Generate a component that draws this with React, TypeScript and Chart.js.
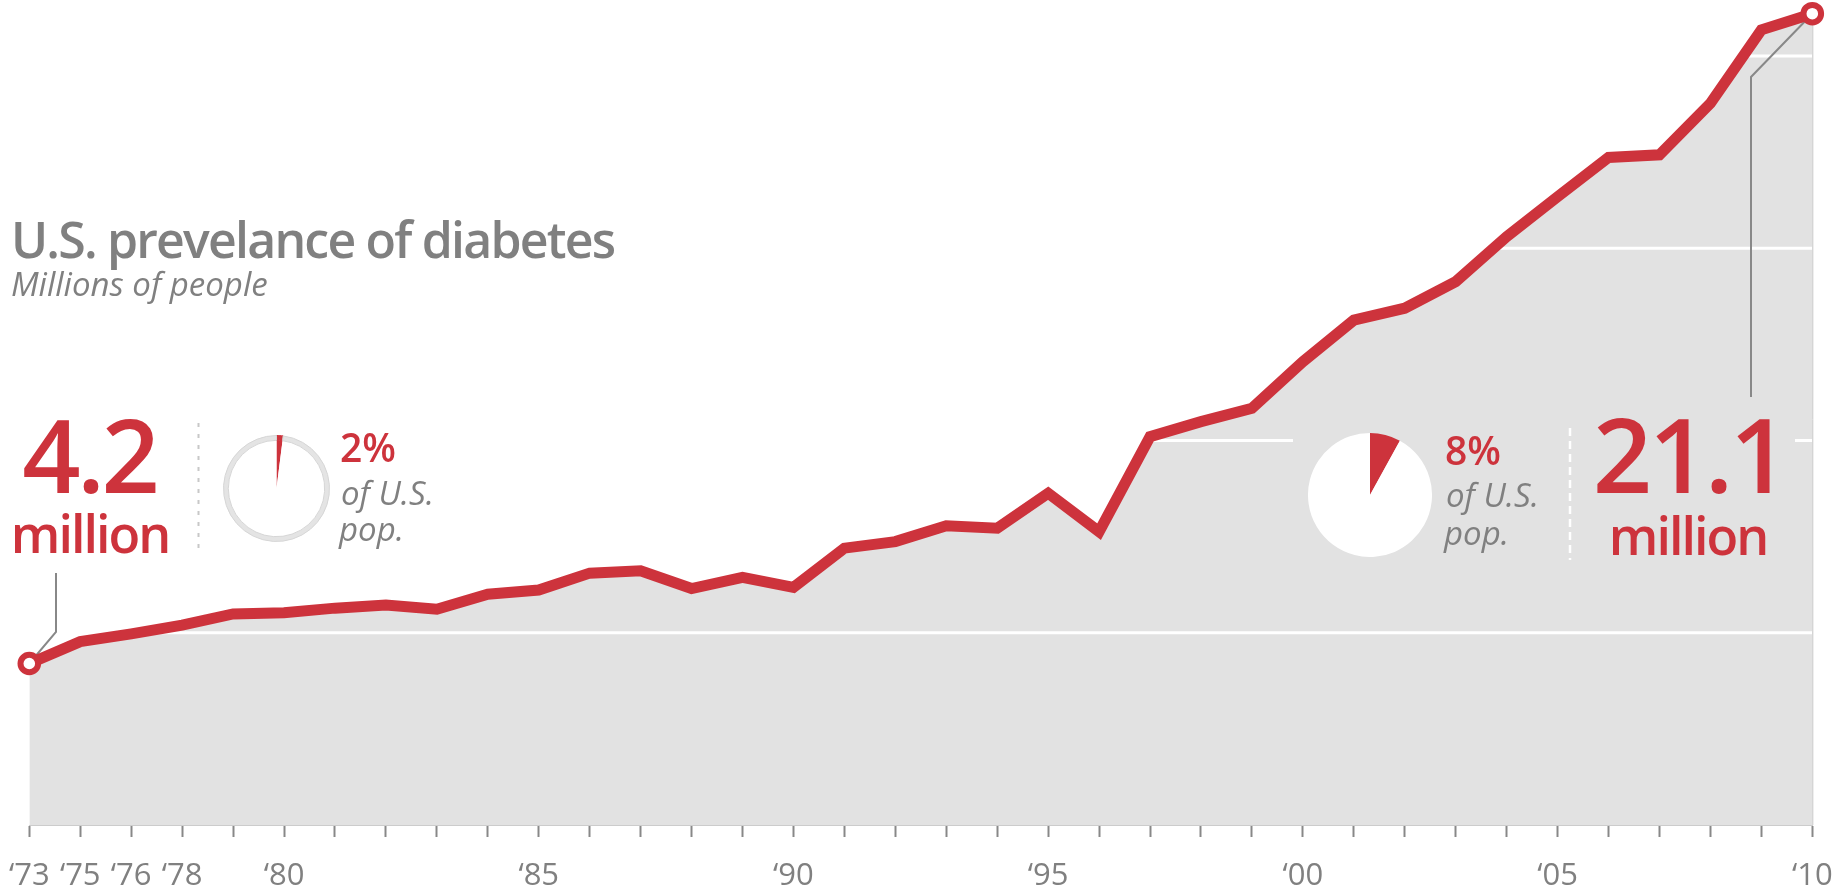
import React, { useEffect, useRef } from 'react';
import { Chart, registerables } from 'chart.js';

Chart.register(...registerables);

// ---------- data ----------
const years = [
  1973, 1975, 1976, 1978, 1979, 1980, 1981, 1982, 1983, 1984, 1985, 1986,
  1987, 1988, 1989, 1990, 1991, 1992, 1993, 1994, 1995, 1996, 1997, 1998,
  1999, 2000, 2001, 2002, 2003, 2004, 2005, 2006, 2007, 2008, 2009, 2010,
];
const prevalence = [
  4.2, 4.77, 4.97, 5.2, 5.49, 5.52, 5.64, 5.72, 5.61, 6.0, 6.11, 6.55,
  6.61, 6.15, 6.44, 6.18, 7.2, 7.37, 7.78, 7.72, 8.63, 7.63, 10.1, 10.49,
  10.84, 12.05, 13.13, 13.44, 14.13, 15.3, 16.34, 17.36, 17.43, 18.77, 20.68, 21.1,
];
const labeledYears = [1973, 1975, 1976, 1978, 1980, 1985, 1990, 1995, 2000, 2005, 2010];
const gridValues = [5, 10, 15, 20];
const share1973 = [2, 98];
const share2010 = [8, 92];

const TITLE = 'U.S. prevelance of diabetes';
const SUBTITLE = 'Millions of people';

// ---------- styles ----------
const RED = '#cd333c';
const GRAY_TEXT = '#808080';
const FILL = '#e2e2e2';
const FONT = '"Open Sans", "Noto Sans", sans-serif';

const yearLabel = (y: number) => '\u2018' + String(y).slice(2);

function drawText(
  ctx: CanvasRenderingContext2D,
  s: string,
  x: number,
  y: number,
  font: string,
  color: string,
  align: CanvasTextAlign = 'left',
  spacing = 0
) {
  ctx.font = font;
  ctx.fillStyle = color;
  ctx.textAlign = align;
  ctx.textBaseline = 'alphabetic';
  (ctx as any).letterSpacing = spacing + 'px';
  // canvas adds spacing after the last glyph too; compensate when centring
  const dx = align === 'center' ? -spacing / 2 : 0;
  ctx.fillText(s, x - dx, y);
  (ctx as any).letterSpacing = '0px';
}

const overlayPlugin = {
  id: 'overlay',
  afterDatasetDraw(chart: any, args: any) {
    if (args.index !== 1) return;
    const { ctx, chartArea: ca } = chart;
    const x = chart.scales.x;
    const y = chart.scales.y;
    ctx.save();
    // white grid lines over the fill, under the red line
    ctx.strokeStyle = '#ffffff';
    ctx.lineWidth = 3;
    for (const v of gridValues) {
      const py = y.getPixelForValue(v);
      ctx.beginPath();
      ctx.moveTo(ca.left, py);
      ctx.lineTo(ca.right, py);
      ctx.stroke();
    }
    const n = prevalence.length - 1;
    const firstX = x.getPixelForValue(0);
    const firstY = y.getPixelForValue(prevalence[0]);
    const lastX = x.getPixelForValue(n);
    const lastY = y.getPixelForValue(prevalence[n]);
    // right edge of the area
    ctx.strokeStyle = '#c4c4c4';
    ctx.lineWidth = 1;
    ctx.beginPath();
    ctx.moveTo(lastX + 0.5, lastY);
    ctx.lineTo(lastX + 0.5, ca.bottom);
    ctx.stroke();
    // background of the right annotation block
    ctx.fillStyle = FILL;
    ctx.fillRect(1293, 402, 502, 195);
    // connector lines
    ctx.strokeStyle = '#888888';
    ctx.lineWidth = 2;
    ctx.beginPath();
    ctx.moveTo(56, 573);
    ctx.lineTo(56, 632);
    ctx.lineTo(firstX, firstY);
    ctx.stroke();
    ctx.beginPath();
    ctx.moveTo(1751, 397);
    ctx.lineTo(1751, 77);
    ctx.lineTo(lastX, lastY);
    ctx.stroke();
    ctx.restore();
  },
  afterDraw(chart: any) {
    const ctx: CanvasRenderingContext2D = chart.ctx;
    ctx.save();
    drawText(ctx, TITLE, 11, 258, `600 50px ${FONT}`, GRAY_TEXT, 'left', -1.8);
    drawText(ctx, SUBTITLE, 11, 296, `italic 400 33px ${FONT}`, GRAY_TEXT);

    // left annotation
    drawText(ctx, String(prevalence[0]), 91, 493, `600 102px ${FONT}`, RED, 'center', -3.5);
    drawText(ctx, 'million', 91, 553, `600 52px ${FONT}`, RED, 'center', -2);
    drawText(ctx, share1973[0] + '%', 340, 462, `600 39px ${FONT}`, RED);
    drawText(ctx, 'of U.S.', 341, 505, `italic 400 33px ${FONT}`, GRAY_TEXT);
    drawText(ctx, 'pop.', 339, 541, `italic 400 33px ${FONT}`, GRAY_TEXT);

    // right annotation
    const last = prevalence[prevalence.length - 1];
    drawText(ctx, share2010[0] + '%', 1445, 465, `600 39px ${FONT}`, RED);
    drawText(ctx, 'of U.S.', 1446, 507, `italic 400 33px ${FONT}`, GRAY_TEXT);
    drawText(ctx, 'pop.', 1444, 545, `italic 400 33px ${FONT}`, GRAY_TEXT);
    drawText(ctx, last.toFixed(1), 1691, 493, `600 104px ${FONT}`, RED, 'center', -3.5);
    drawText(ctx, 'million', 1689, 555, `600 52px ${FONT}`, RED, 'center', -2);

    // dashed separators
    ctx.lineWidth = 2;
    ctx.setLineDash([4, 7]);
    ctx.strokeStyle = '#c8c8c8';
    ctx.beginPath();
    ctx.moveTo(198.5, 423);
    ctx.lineTo(198.5, 553);
    ctx.stroke();
    ctx.setLineDash([8, 5]);
    ctx.strokeStyle = '#ffffff';
    ctx.lineWidth = 2.5;
    ctx.beginPath();
    ctx.moveTo(1570, 428);
    ctx.lineTo(1570, 560);
    ctx.stroke();
    ctx.restore();
  },
};

function MainChart() {
  const ref = useRef<HTMLCanvasElement>(null);
  useEffect(() => {
    if (!ref.current) return;
    const n = prevalence.length - 1;
    const chart = new Chart(ref.current, {
      type: 'line',
      data: {
        labels: years.map(String),
        datasets: [
          {
            data: prevalence,
            borderColor: RED,
            borderWidth: 11,
            borderJoinStyle: 'miter',
            fill: false,
            tension: 0,
            clip: false as any,
            pointRadius: (c: any) => (c.dataIndex === 0 || c.dataIndex === n ? 8.8 : 0),
            pointBackgroundColor: '#ffffff',
            pointBorderColor: RED,
            pointBorderWidth: 6,
            pointHoverRadius: 0,
          },
          {
            data: prevalence,
            borderWidth: 0,
            pointRadius: 0,
            fill: 'origin',
            backgroundColor: FILL,
            tension: 0,
          },
        ],
      },
      options: {
        responsive: false,
        animation: false,
        events: [],
        layout: { autoPadding: false, padding: { left: 29.3, right: 22.7, top: 0, bottom: 0 } },
        plugins: { legend: { display: false }, tooltip: { enabled: false } },
        scales: {
          x: {
            type: 'category',
            offset: false,
            grid: {
              display: true,
              drawOnChartArea: false,
              drawTicks: true,
              tickLength: 12,
              tickColor: '#888888',
              tickWidth: 2,
            },
            border: { display: true, color: '#cccccc', width: 1 },
            ticks: {
              autoSkip: false,
              maxRotation: 0,
              minRotation: 0,
              padding: 21,
              color: GRAY_TEXT,
              font: { family: FONT, size: 31, weight: 'normal' },
              callback: (_v: any, i: number) =>
                labeledYears.includes(years[i]) ? yearLabel(years[i]) : '',
            },
            afterFit: (scale: any) => {
              scale.height = 68;
              scale.paddingLeft = 0;
              scale.paddingRight = 0;
              scale.paddingTop = 0;
              scale.paddingBottom = 0;
            },
          },
          y: {
            display: false,
            min: 0,
            max: 21.456,
            afterFit: (scale: any) => {
              scale.paddingTop = 0;
              scale.paddingBottom = 0;
            },
          },
        },
      },
      plugins: [overlayPlugin],
    } as any);
    return () => chart.destroy();
  }, []);
  return <canvas ref={ref} width={1835} height={893} style={{ position: 'absolute', left: 0, top: 0 }} />;
}

function SharePie(props: { data: number[]; size: number; left: number; top: number; ring: boolean }) {
  const ref = useRef<HTMLCanvasElement>(null);
  useEffect(() => {
    if (!ref.current) return;
    const datasets: any[] = [];
    if (props.ring) {
      datasets.push({
        data: props.data,
        backgroundColor: [RED, '#e4e4e4'],
        borderColor: [RED, '#d6d6d6'],
        borderWidth: 1,
        weight: 1,
      });
    }
    datasets.push({
      data: props.data,
      backgroundColor: [RED, '#ffffff'],
      borderWidth: 0,
      weight: props.ring ? 10 : 1,
    });
    const chart = new Chart(ref.current, {
      type: 'doughnut',
      data: { labels: ['Diabetic', 'Other'], datasets },
      options: {
        responsive: false,
        animation: false,
        events: [],
        cutout: 0,
        layout: { padding: 0 },
        plugins: { legend: { display: false }, tooltip: { enabled: false } },
      },
    } as any);
    return () => chart.destroy();
  }, []);
  return (
    <canvas
      ref={ref}
      width={props.size}
      height={props.size}
      style={{ position: 'absolute', left: props.left, top: props.top }}
    />
  );
}

export default function App() {
  return (
    <div style={{ position: 'absolute', left: 0, top: 0, width: 1835, height: 893, background: '#ffffff', overflow: 'hidden' }}>
      <MainChart />
      <SharePie data={share1973} size={107} left={223} top={435} ring={true} />
      <SharePie data={share2010} size={124} left={1308} top={433} ring={false} />
    </div>
  );
}
